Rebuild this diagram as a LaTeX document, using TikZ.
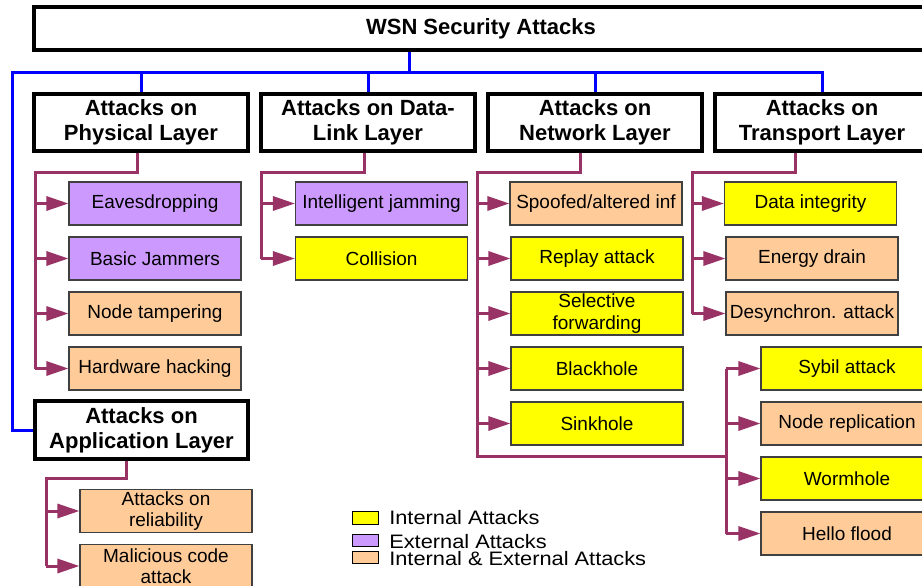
\documentclass[tikz,border=0pt]{standalone}
\usepackage{fontspec}
\setmainfont{Liberation Sans}
\newfontfamily\keyfont{Liberation Sans}[FakeStretch=1.12]
\usetikzlibrary{arrows.meta}
\definecolor{maroon}{HTML}{993366}
\definecolor{internal}{HTML}{FFFF00}
\definecolor{external}{HTML}{CC99FF}
\definecolor{mixed}{HTML}{FFCC99}
\tikzset{
  layer/.style={draw, line width=2.4pt, fill=white, align=center, minimum width=160.5pt,
    minimum height=42.75pt, inner sep=1pt, font=\bfseries\fontsize{16.5}{18.75}\selectfont},
  attack/.style={draw=black!75, line width=0.8pt, align=center, minimum width=129pt,
    minimum height=32.25pt, inner sep=1pt, font=\fontsize{14.25}{16}\selectfont},
  bus/.style={blue, line width=2.25pt},
  trunk/.style={maroon, line width=2.25pt},
  feed/.style={trunk, -{Triangle[length=16.5pt,width=10.5pt]}},
  swatch/.style={draw, line width=0.6pt, minimum width=19.5pt, minimum height=9.5pt, inner sep=0pt},
  key/.style={anchor=base west, inner sep=0pt, font=\keyfont\fontsize{14.6}{14.6}\selectfont}
}
\begin{document}
\begin{tikzpicture}[x=0.75pt, y=-0.75pt]
\clip (0,0) rectangle (922,586);
\fill[white] (0,0) rectangle (922,586);

% title and layers
\node[layer, minimum width=670.5pt, minimum height=32.25pt] (title) at (481,28.5) {WSN Security Attacks};
\node[layer] (phys) at (141,122.5) {Attacks on\\Physical Layer};
\node[layer] (link) at (368,122.5) {Attacks on Data-\\Link Layer};
\node[layer] (net) at (595,122.5) {Attacks on\\Network Layer};
\node[layer] (trans) at (822,122.5) {Attacks on\\Transport Layer};
\node[layer, minimum width=159.75pt, minimum height=43.5pt] (app) at (141.5,430) {Attacks on\\Application Layer};

% blue bus
\coordinate (busL) at (12,72);
\coordinate (busM) at (409,72);
\coordinate (busR) at (822,72);
\draw[bus] (title.south -| busM) -- (busM);
\draw[bus] (app.west) -| (busL) -- (busR) -- (trans.north);
\foreach \n in {phys,link,net}
  \draw[bus] (\n.north) -- (\n.north |- busL);

% physical layer
\node[attack, fill=external] (eaves) at (155,203.5) {Eavesdropping};
\node[attack, fill=external] (jammer) at (155,258.5) {Basic Jammers};
\node[attack, fill=mixed] (tamper) at (155,313.5) {Node tampering};
\node[attack, fill=mixed] (hack) at (155,368.5) {Hardware hacking};
\coordinate (physbus) at (35,172);
\draw[trunk] ([xshift=-3pt]phys.south) |- (physbus) -- (physbus |- hack.west);
\foreach \n in {eaves,jammer,tamper,hack}
  \draw[feed] (physbus |- \n.west) -- (\n.west);

% data-link layer
\node[attack, fill=external] (smartjam) at (381.5,203.5) {Intelligent jamming};
\node[attack, fill=internal] (collide) at (381.5,258.5) {Collision};
\coordinate (linkbus) at (261,172);
\draw[trunk] ([xshift=-3pt]link.south) |- (linkbus) -- (linkbus |- collide.west);
\foreach \n in {smartjam,collide}
  \draw[feed] (linkbus |- \n.west) -- (\n.west);

% network layer
\node[attack, fill=mixed] (spoof) at (596,203.5) {Spoofed/altered inf};
\node[attack, fill=internal] (replay) at (597,258.5) {Replay attack};
\node[attack, fill=internal] (selfwd) at (597,313.5) {Selective\\forwarding};
\node[attack, fill=internal] (black) at (597,368.5) {Blackhole};
\node[attack, fill=internal] (sink) at (597,423.5) {Sinkhole};
\node[attack, fill=internal] (sybil) at (847,368.5) {Sybil attack};
\node[attack, fill=mixed] (replica) at (847,423.5) {Node replication};
\node[attack, fill=internal] (worm) at (847,478.5) {Wormhole};
\node[attack, fill=mixed] (hello) at (847,533.5) {Hello flood};
\coordinate (netbus) at (477,172);
\coordinate (netjoin) at (726,456);
\draw[trunk] ([xshift=-11.25pt]net.south) |- (netbus) -- (netbus |- netjoin) -- (netjoin);
\draw[trunk] (netjoin |- sybil.west) -- (netjoin |- hello.west);
\foreach \n in {spoof,replay,selfwd,black,sink}
  \draw[feed] (netbus |- \n.west) -- (\n.west);
\foreach \n in {sybil,replica,worm,hello}
  \draw[feed] (netjoin |- \n.west) -- (\n.west);

% transport layer
\node[attack, fill=internal] (integrity) at (810.5,203.5) {Data integrity};
\node[attack, fill=mixed] (drain) at (812,258.5) {Energy drain};
\node[attack, fill=mixed] (desync) at (812,313.5) {Desynchron. attack};
\coordinate (transbus) at (692,172);
\draw[trunk] ([xshift=-20.25pt]trans.south) |- (transbus) -- (transbus |- desync.west);
\foreach \n in {integrity,drain,desync}
  \draw[feed] (transbus |- \n.west) -- (\n.west);

% application layer
\node[attack, fill=mixed] (reliab) at (166,511) {Attacks on\\reliability};
\node[attack, fill=mixed] (malcode) at (166,566) {Malicious code\\attack};
\coordinate (appbus) at (46,478);
\draw[trunk] ([xshift=-11.5pt]app.south) |- (appbus) -- (appbus |- malcode.west);
\foreach \n in {reliab,malcode}
  \draw[feed] (appbus |- \n.west) -- (\n.west);

% legend
\node[swatch, fill=internal] (keyint) at (365,518) {};
\node[swatch, fill=external] (keyext) at (365,540.5) {};
\node[swatch, fill=mixed] (keymix) at (365,557.5) {};
\node[key] (keyinttext) at (389,524) {Internal Attacks};
\node[key] (keyexttext) at (389,548) {External Attacks};
\node[key] (keymixtext) at (389,565) {Internal \& External Attacks};
\end{tikzpicture}
\end{document}
